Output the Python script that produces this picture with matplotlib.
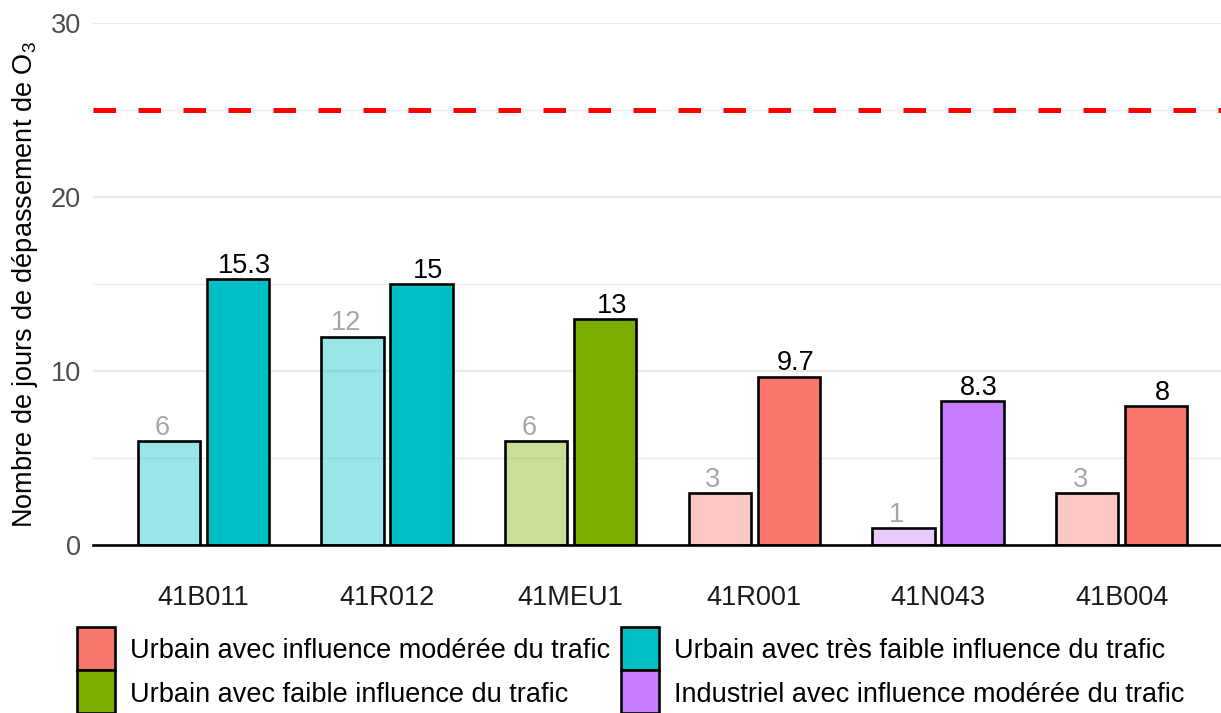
import numpy as np
import matplotlib.pyplot as plt
from matplotlib.colors import to_rgba
from matplotlib.patches import Rectangle

plt.rcParams['font.family'] = ['Liberation Sans', 'DejaVu Sans']
plt.rcParams['mathtext.fontset'] = 'custom'
plt.rcParams['mathtext.rm'] = 'Liberation Sans'
plt.rcParams['mathtext.default'] = 'regular'

# data ########################################################################
stations = ['41B011', '41R012', '41MEU1', '41R001', '41N043', '41B004']
previous = [6, 12, 6, 3, 1, 3]          # pale bars
current = [15.3, 15, 13, 9.7, 8.3, 8]   # full bars
station_type = ['tres_faible', 'tres_faible', 'faible', 'moderee', 'industriel', 'moderee']
threshold = 25

type_order = ['moderee', 'faible', 'tres_faible', 'industriel']
type_labels = ['Urbain avec influence modérée du trafic',
               'Urbain avec faible influence du trafic',
               'Urbain avec très faible influence du trafic',
               'Industriel avec influence modérée du trafic']
type_colors = ['#F8766D', '#7CAE00', '#00BFC4', '#C77CFF']
color_of = dict(zip(type_order, type_colors))

# figure ######################################################################
W, H = 1221, 713
fig = plt.figure(figsize=(W / 100, H / 100), dpi=100)
left_px, right_px, top_px, bot_px = 93.3, 1231.7, 23.3, 545.3
ax = fig.add_axes([left_px / W, 1 - bot_px / H,
                   (right_px - left_px) / W, (bot_px - top_px) / H])

x = np.arange(1, len(stations) + 1)
bw = 0.34
off = 0.188
txt_off = 0.225
fs = 19.5

for xi, p, c, t in zip(x, previous, current, station_type):
    col = color_of[t]
    ax.bar(xi - off, p, width=bw, color=to_rgba(col, 0.4),
           edgecolor='black', linewidth=1.9, zorder=3)
    ax.bar(xi + off, c, width=bw, color=col,
           edgecolor='black', linewidth=1.9, zorder=3)
    ax.annotate(f'{p:g}', (xi - txt_off, p), xytext=(0, 4.5),
                textcoords='offset points', ha='center', va='baseline',
                fontsize=fs, color='#A6A6A6')
    ax.annotate(f'{c:g}', (xi + txt_off, c), xytext=(0, 4.5),
                textcoords='offset points', ha='center', va='baseline',
                fontsize=fs, color='black')

ax.axhline(threshold, color='#FF0000', linewidth=3.6, dashes=(4.5, 4.5), zorder=4)

ax.set_xlim(0.4, 6.6)
ax.set_ylim(0, 30)
ax.set_xticks(x)
ax.set_xticklabels(stations)
ax.set_yticks([0, 10, 20, 30])
ax.set_yticks([5, 15, 25], minor=True)
ax.grid(which='major', axis='y', color='#EBEBEB', linewidth=1.7, zorder=0)
ax.grid(which='minor', axis='y', color='#EBEBEB', linewidth=1.0, zorder=0)
ax.tick_params(axis='both', which='both', length=0)
ax.tick_params(axis='y', labelsize=fs, labelcolor='#4D4D4D', pad=9)
ax.tick_params(axis='x', labelsize=fs, labelcolor='#1A1A1A', pad=28.5)
for s in ['top', 'right', 'left']:
    ax.spines[s].set_visible(False)
ax.spines['bottom'].set_linewidth(1.9)
ax.spines['bottom'].set_zorder(5)
for lab in ax.get_yticklabels():
    lab.set_clip_on(False)

ax.set_ylabel('Nombre de jours de dépassement de O$_3$', fontsize=fs)
ax.yaxis.set_label_coords(-(left_px - 40) / (right_px - left_px), 0.5)

# legend (2 x 2, column major) ################################################
key_w, key_h = 38, 43
cols_x = [77, 621]
rows_y = [627, 670]
for i, (lab, col) in enumerate(zip(type_labels, type_colors)):
    cx = cols_x[i // 2]
    ry = rows_y[i % 2]
    fig.patches.append(Rectangle((cx / W, 1 - (ry + key_h) / H), key_w / W, key_h / H,
                                 transform=fig.transFigure, facecolor=col,
                                 edgecolor='black', linewidth=1.9))
    fig.text((cx + key_w + 15) / W, 1 - (ry + key_h / 2 + 3) / H, lab,
             fontsize=fs, va='center', ha='left', color='black')

fig.savefig('out.png', dpi=100)
